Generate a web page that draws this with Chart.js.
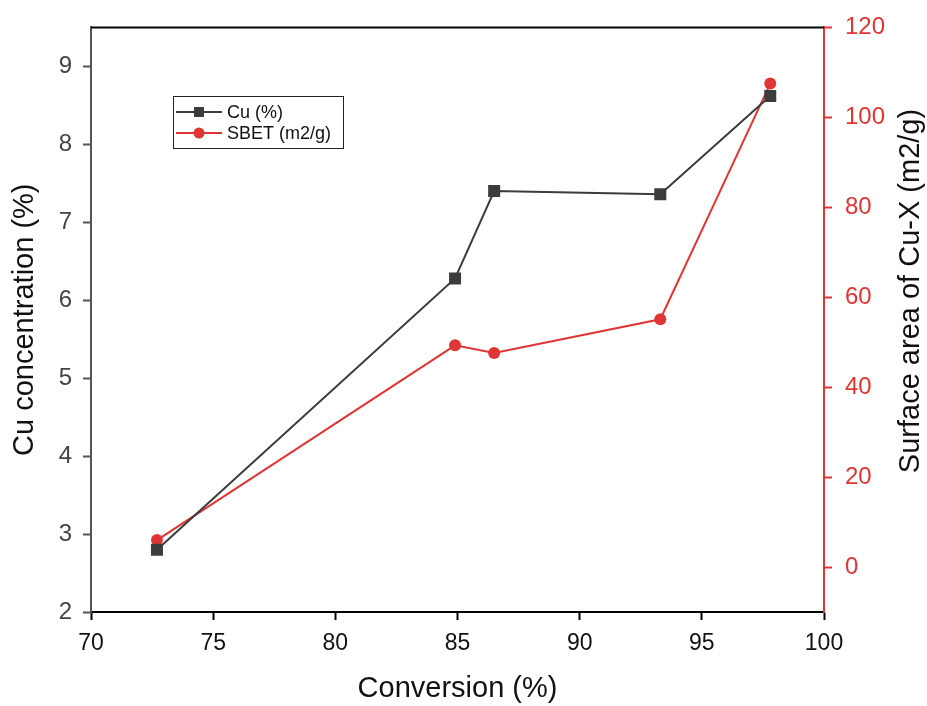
<!DOCTYPE html>
<html>
<head>
<meta charset="utf-8">
<script src="https://cdn.jsdelivr.net/npm/chart.js@4.4.0/dist/chart.umd.min.js"></script>
<style>
  html, body { margin: 0; padding: 0; background: #fff; }
  #wrap { width: 927px; height: 706px; }
</style>
</head>
<body>
<div id="wrap"><canvas id="chart" width="927" height="706"></canvas></div>
<script>
// values
const conversion = [72.7, 84.9, 86.5, 93.3, 97.8];
const cuPercent = [2.8, 6.28, 7.4, 7.36, 8.62];
const sbet = [6, 49.3, 47.6, 55.1, 107.5];

const xTicks = [70, 75, 80, 85, 90, 95, 100];
const leftTicks = [2, 3, 4, 5, 6, 7, 8, 9];
const rightTicks = [0, 20, 40, 60, 80, 100, 120];

const RED = "#e03535";
const GREY = "#3c3c3c";
const FONT = "'Liberation Sans', Arial, sans-serif";

const setTicks = (list) => (scale) => {
  scale.ticks = list.map((v) => ({ value: v }));
};

// top frame line, right axis title, inset legend box
const framePlugin = {
  id: "frame",
  afterDraw(chart) {
    const { ctx, chartArea: a } = chart;
    ctx.save();
    ctx.strokeStyle = "#000";
    ctx.lineWidth = 2;
    ctx.beginPath();
    ctx.moveTo(a.left, a.top);
    ctx.lineTo(a.right, a.top);
    ctx.stroke();

    // right axis title (sits a bit above the axis centre in the original)
    ctx.save();
    ctx.translate(911, 291);
    ctx.rotate(-Math.PI / 2);
    ctx.font = "29px " + FONT;
    ctx.fillStyle = "#111";
    ctx.textAlign = "center";
    ctx.textBaseline = "middle";
    ctx.fillText("Surface area of Cu-X (m2/g)", 0, 0);
    ctx.restore();

    // legend
    const bx = 173, by = 96, bw = 170, bh = 52;
    ctx.lineWidth = 1;
    ctx.strokeStyle = "#222";
    ctx.fillStyle = "#fff";
    ctx.fillRect(bx, by, bw, bh);
    ctx.strokeRect(bx + 0.5, by + 0.5, bw, bh);

    ctx.font = "18px " + FONT;
    ctx.textBaseline = "middle";
    const rows = [
      { y: 112, color: GREY, text: "Cu (%)", shape: "rect" },
      { y: 133, color: RED, text: "SBET (m2/g)", shape: "circle" },
    ];
    rows.forEach((r) => {
      ctx.strokeStyle = r.color;
      ctx.lineWidth = 2;
      ctx.beginPath();
      ctx.moveTo(176, r.y);
      ctx.lineTo(222, r.y);
      ctx.stroke();
      ctx.fillStyle = r.color;
      if (r.shape === "rect") {
        ctx.fillRect(194, r.y - 5, 10, 10);
      } else {
        ctx.beginPath();
        ctx.arc(199, r.y, 5.5, 0, Math.PI * 2);
        ctx.fill();
      }
      ctx.fillStyle = "#111";
      ctx.fillText(r.text, 227, r.y + 1);
    });
    ctx.restore();
  },
};

new Chart(document.getElementById("chart").getContext("2d"), {
  type: "line",
  data: {
    datasets: [
      {
        label: "Cu (%)",
        data: conversion.map((x, i) => ({ x, y: cuPercent[i] })),
        yAxisID: "y",
        borderColor: GREY,
        backgroundColor: GREY,
        borderWidth: 2,
        pointStyle: "rect",
        pointRadius: 8.5,
        pointBorderWidth: 0,
        tension: 0,
      },
      {
        label: "SBET (m2/g)",
        data: conversion.map((x, i) => ({ x, y: sbet[i] })),
        yAxisID: "y1",
        borderColor: RED,
        backgroundColor: RED,
        borderWidth: 2,
        pointStyle: "circle",
        pointRadius: 6,
        pointBorderWidth: 0,
        tension: 0,
      },
    ],
  },
  options: {
    responsive: false,
    animation: false,
    layout: { padding: { top: 25, left: 0, right: 0, bottom: 0 } },
    plugins: {
      legend: { display: false },
      tooltip: { enabled: false },
    },
    scales: {
      x: {
        type: "linear",
        min: 70,
        max: 100,
        afterBuildTicks: setTicks(xTicks),
        afterFit: (s) => { s.height = 94; },
        grid: { drawOnChartArea: false, tickLength: 8, tickColor: "#000", tickWidth: 2 },
        border: { display: true, color: "#000", width: 2 },
        ticks: { color: "#111", font: { family: FONT, size: 23 }, padding: 10, maxRotation: 0 },
        title: {
          display: true,
          text: "Conversion (%)",
          color: "#111",
          font: { family: FONT, size: 29 },
          padding: { top: 6, bottom: 0 },
        },
      },
      y: {
        type: "linear",
        position: "left",
        min: 2,
        max: 9.5,
        afterBuildTicks: setTicks(leftTicks),
        afterFit: (s) => { s.width = 91; },
        grid: { drawOnChartArea: false, tickLength: 8, tickColor: "#555", tickWidth: 2 },
        border: { display: true, color: "#555", width: 2 },
        ticks: { color: "#444", font: { family: FONT, size: 24 }, padding: 11 },
        title: {
          display: true,
          text: "Cu concentration (%)",
          color: "#111",
          font: { family: FONT, size: 29 },
          padding: { top: 8, bottom: 0 },
        },
      },
      y1: {
        type: "linear",
        position: "right",
        min: -10,
        max: 120,
        afterBuildTicks: setTicks(rightTicks),
        afterFit: (s) => { s.width = 103; },
        grid: { drawOnChartArea: false, tickLength: 8, tickColor: RED, tickWidth: 2 },
        border: { display: true, color: RED, width: 2 },
        ticks: { color: RED, font: { family: FONT, size: 24 }, padding: 13 },
      },
    },
  },
  plugins: [framePlugin],
});
</script>
</body>
</html>
